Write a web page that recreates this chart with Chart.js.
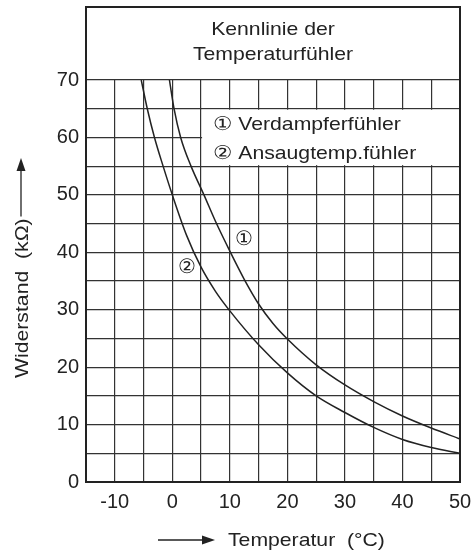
<!DOCTYPE html>
<html>
<head>
<meta charset="utf-8">
<script src="https://cdn.jsdelivr.net/npm/chart.js@4"></script>
<style>
  html, body { margin: 0; padding: 0; background: #fff; }
  canvas { display: block; }
</style>
</head>
<body>
<canvas id="chart" width="473" height="557"></canvas>
<script>
// Kennlinie 1: Verdampferfühler
const temps1 = [-0.5, 0.3, 1.45, 3.25, 5.5, 7.5, 10, 12.5, 15, 17.5, 20, 25, 30, 35, 40, 45, 50];
const resist1 = [70, 65, 60, 55, 50, 45.4, 40.2, 35.3, 31.0, 27.6, 24.9, 20.4, 16.9, 14.0, 11.5, 9.4, 7.5];

// Kennlinie 2: Ansaugtemp.fühler
const temps2 = [-5.4, -4.35, -3.1, -1.6, 0, 2.5, 5, 7.5, 10, 15, 20, 25, 30, 35, 40, 45, 50];
const resist2 = [70, 65, 60, 55, 50, 42.9, 37.4, 33.2, 29.8, 23.9, 19.0, 15.0, 12.1, 9.5, 7.4, 6.0, 5.0];

const seriesNames = ["Verdampferfühler", "Ansaugtemp.fühler"];
const titleLines = ["Kennlinie der", "Temperaturfühler"];
const xTitle = "Temperatur  (°C)";
const yTitle = "Widerstand  (kΩ)";

const FAMILY = "'Liberation Sans', Arial, sans-serif";
const INK = "#222";
const WIDE = 1.14; // Schrift der Vorlage läuft etwas breiter

function pts(xs, ys) {
  return xs.map((x, i) => ({ x: x, y: ys[i] }));
}

// Text leicht in die Breite gezogen zeichnen
function wideText(ctx, text, x, y, align) {
  ctx.save();
  ctx.translate(x, y);
  ctx.scale(WIDE, 1);
  ctx.textAlign = align;
  ctx.fillText(text, 0, 0);
  const w = ctx.measureText(text).width * WIDE;
  ctx.restore();
  return w;
}

// Rahmen, Titelfeld, Legende, Achsentitel mit Pfeilen
const decor = {
  id: "decor",
  afterDraw(chart) {
    const { ctx, chartArea: a, scales: { x, y } } = chart;
    ctx.save();

    // Legendenfeld (Gitter ausgeblendet)
    const bx0 = x.getPixelForValue(5), bx1 = x.getPixelForValue(50);
    const by0 = y.getPixelForValue(65), by1 = y.getPixelForValue(55);
    ctx.fillStyle = "#fff";
    ctx.fillRect(bx0 + 1, by0 + 1, bx1 - bx0 - 2, by1 - by0 - 2);

    // Rahmen
    ctx.strokeStyle = INK;
    ctx.lineWidth = 2;
    ctx.strokeRect(a.left, 7, a.right - a.left, a.bottom - 7);

    ctx.fillStyle = INK;
    ctx.font = "18.6px " + FAMILY;
    ctx.textBaseline = "alphabetic";

    // Titel
    const cx = (a.left + a.right) / 2;
    wideText(ctx, titleLines[0], cx, 35, "center");
    wideText(ctx, titleLines[1], cx, 60, "center");

    // Legende
    wideText(ctx, "\u2460 " + seriesNames[0], 213, 129.5, "left");
    wideText(ctx, "\u2461 " + seriesNames[1], 213, 159, "left");

    // Kurvenmarken
    ctx.font = "20px " + FAMILY;
    ctx.textAlign = "center";
    ctx.textBaseline = "middle";
    ctx.fillText("\u2460", x.getPixelForValue(12.5), y.getPixelForValue(42.3));
    ctx.fillText("\u2461", x.getPixelForValue(2.5), y.getPixelForValue(37.4));

    // x-Achsentitel mit Pfeil
    ctx.font = "18.6px " + FAMILY;
    ctx.textBaseline = "alphabetic";
    wideText(ctx, xTitle, 228, 546, "left");
    ctx.lineWidth = 1.3;
    ctx.beginPath();
    ctx.moveTo(158, 540); ctx.lineTo(205, 540); ctx.stroke();
    ctx.beginPath();
    ctx.moveTo(215, 540); ctx.lineTo(202, 535.5); ctx.lineTo(202, 544.5); ctx.closePath(); ctx.fill();

    // y-Achsentitel mit Pfeil
    ctx.save();
    ctx.translate(28, 378);
    ctx.rotate(-Math.PI / 2);
    const w = wideText(ctx, yTitle, 0, 0, "left");
    ctx.restore();
    ctx.beginPath();
    ctx.moveTo(21, 378 - w - 2); ctx.lineTo(21, 168); ctx.stroke();
    ctx.beginPath();
    ctx.moveTo(21, 158); ctx.lineTo(16.5, 171); ctx.lineTo(25.5, 171); ctx.closePath(); ctx.fill();

    ctx.restore();
  }
};

const tickLabel = v => (v % 10 === 0 ? String(v) : "");

new Chart(document.getElementById("chart"), {
  type: "line",
  data: {
    datasets: [
      { label: seriesNames[0], data: pts(temps1, resist1) },
      { label: seriesNames[1], data: pts(temps2, resist2) }
    ]
  },
  options: {
    responsive: false,
    animation: false,
    devicePixelRatio: 1,
    layout: { padding: { top: 80, right: 13, left: 0, bottom: 0 } },
    elements: {
      line: { borderColor: INK, borderWidth: 1.5, cubicInterpolationMode: "monotone", fill: false },
      point: { radius: 0 }
    },
    plugins: { legend: { display: false }, tooltip: { enabled: false } },
    scales: {
      x: {
        type: "linear",
        min: -15, max: 50,
        afterFit: s => { s.height = 75; s.paddingLeft = 0; s.paddingRight = 0; },
        ticks: { stepSize: 5, callback: tickLabel, autoSkip: false, maxRotation: 0, padding: 8,
                 color: INK, font: { family: FAMILY, size: 20 } },
        grid: { color: "#333", lineWidth: 1.2, drawTicks: false },
        border: { display: false }
      },
      y: {
        type: "linear",
        min: 0, max: 70,
        afterFit: s => { s.width = 86; s.paddingTop = 0; s.paddingBottom = 0; },
        ticks: { stepSize: 5, callback: tickLabel, autoSkip: false, padding: 7,
                 color: INK, font: { family: FAMILY, size: 20 } },
        grid: { color: "#333", lineWidth: 1.2, drawTicks: false },
        border: { display: false }
      }
    }
  },
  plugins: [decor]
});
</script>
</body>
</html>
